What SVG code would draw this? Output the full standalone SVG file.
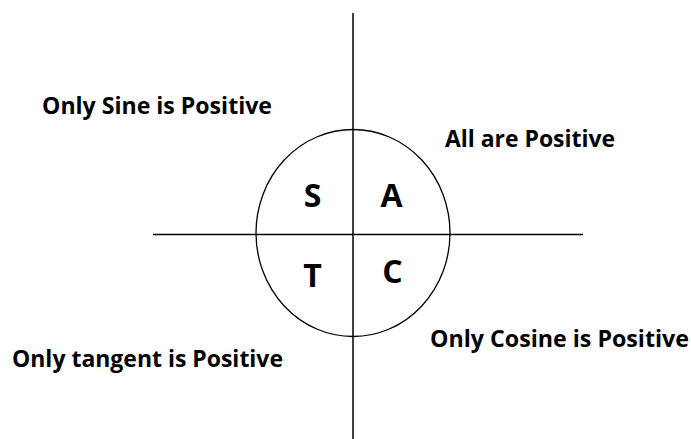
<svg xmlns="http://www.w3.org/2000/svg" width="691" height="439" viewBox="0 0 691 439">
<style>
.lbl{font-family:"Open Sans","Noto Sans",sans-serif;font-weight:bold;font-size:23.5px;fill:#000}
.q{font-family:"Open Sans","Noto Sans",sans-serif;font-weight:bold;font-size:32px;fill:#000;text-anchor:middle}
.ax{stroke:#000;stroke-width:1.5;fill:none}
</style>
<rect width="691" height="439" fill="#fff"/>
<g id="connectors">
<line class="ax" x1="353" y1="13" x2="353" y2="439"/>
<line class="ax" x1="153" y1="234.5" x2="583" y2="234.5"/>
</g>
<g id="circle"><ellipse cx="353" cy="233" rx="97" ry="103.5" fill="none" stroke="#000" stroke-width="1.3"/></g>
<g id="S"><text class="q" x="312.5" y="207">S</text></g>
<g id="A"><text class="q" x="391.5" y="207">A</text></g>
<g id="T"><text class="q" x="312.5" y="287">T</text></g>
<g id="C"><text class="q" x="392.5" y="283">C</text></g>
<g id="sine"><text class="lbl" x="42" y="114" textLength="230" lengthAdjust="spacingAndGlyphs">Only Sine is Positive</text></g>
<g id="all"><text class="lbl" x="445" y="147" textLength="170" lengthAdjust="spacingAndGlyphs">All are Positive</text></g>
<g id="tangent"><text class="lbl" x="12" y="367" textLength="271" lengthAdjust="spacingAndGlyphs">Only tangent is Positive</text></g>
<g id="cosine"><text class="lbl" x="430" y="347" textLength="259" lengthAdjust="spacingAndGlyphs">Only Cosine is Positive</text></g>
</svg>
